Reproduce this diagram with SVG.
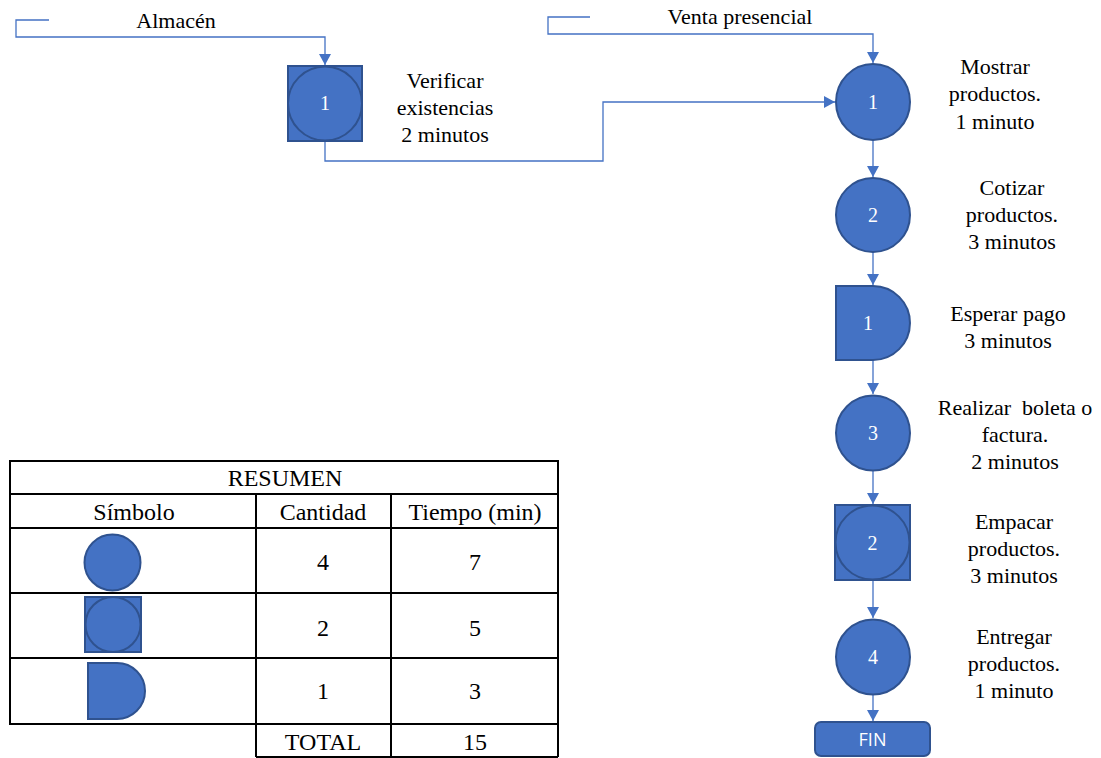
<svg xmlns="http://www.w3.org/2000/svg" width="1101" height="758" viewBox="0 0 1101 758">
  <style>
    .serif { font-family: 'Liberation Serif', 'Times New Roman', serif; }
    .shape { fill: #4472C4; stroke: #2F528F; stroke-width: 2; }
    .conn { fill: none; stroke: #4472C4; stroke-width: 1.3; }
    .num { font-size: 20px; fill: #ffffff; text-anchor: middle; }
    .lbl { font-size: 22px; fill: #000000; text-anchor: middle; }
    .tbl { font-size: 24px; fill: #000000; text-anchor: middle; }
    .grid { fill: none; stroke: #000000; stroke-width: 2; }
    .fin { font-family: 'Open Sans', 'Liberation Sans', sans-serif; font-size: 18px; fill: #ffffff; text-anchor: middle; }
  </style>
  <defs>
    <marker id="arrow" markerUnits="userSpaceOnUse" markerWidth="14" markerHeight="12" refX="11" refY="6" orient="auto">
      <path d="M0,0 L11,6 L0,12 Z" fill="#4472C4"/>
    </marker>
  </defs>

  <rect width="1101" height="758" fill="#ffffff"/>

  <!-- connectors -->
  <g id="connectors">
    <path class="conn" d="M49,20 H16 V37 H325 V65" marker-end="url(#arrow)"/>
    <path class="conn" d="M325,141 V161 H603 V102 H835" marker-end="url(#arrow)"/>
    <path class="conn" d="M590,17 H548 V34 H873 V63" marker-end="url(#arrow)"/>
    <path class="conn" d="M873,140 V177" marker-end="url(#arrow)"/>
    <path class="conn" d="M873,252 V285" marker-end="url(#arrow)"/>
    <path class="conn" d="M873,360 V394" marker-end="url(#arrow)"/>
    <path class="conn" d="M873,470 V504" marker-end="url(#arrow)"/>
    <path class="conn" d="M873,580 V618" marker-end="url(#arrow)"/>
    <path class="conn" d="M873,694 V721" marker-end="url(#arrow)"/>
  </g>

  <g class="serif">
    <!-- entry labels -->
    <text class="lbl" x="176" y="28">Almacén</text>
    <text class="lbl" x="740" y="24">Venta presencial</text>

    <!-- combined activity: Verificar existencias -->
    <g id="node-verificar">
      <rect class="shape" x="288" y="66" width="74" height="75"/>
      <circle class="shape" cx="325" cy="103.5" r="37"/>
      <text class="num" x="325" y="110">1</text>
      <text class="lbl" x="445" y="88">Verificar</text>
      <text class="lbl" x="445" y="115">existencias</text>
      <text class="lbl" x="445" y="142">2 minutos</text>
    </g>

    <!-- operation 1 -->
    <g id="node-mostrar">
      <ellipse class="shape" cx="873" cy="102" rx="37" ry="38"/>
      <text class="num" x="873" y="109">1</text>
      <text class="lbl" x="995" y="74">Mostrar</text>
      <text class="lbl" x="995" y="101">productos.</text>
      <text class="lbl" x="995" y="129">1 minuto</text>
    </g>

    <!-- operation 2 -->
    <g id="node-cotizar">
      <ellipse class="shape" cx="873" cy="215" rx="37" ry="37"/>
      <text class="num" x="873" y="222">2</text>
      <text class="lbl" x="1012" y="195">Cotizar</text>
      <text class="lbl" x="1012" y="222">productos.</text>
      <text class="lbl" x="1012" y="249">3 minutos</text>
    </g>

    <!-- delay 1 -->
    <g id="node-esperar">
      <path class="shape" d="M836,286 H873 A37,37 0 0 1 873,360 H836 Z"/>
      <text class="num" x="868" y="330">1</text>
      <text class="lbl" x="1008" y="321">Esperar pago</text>
      <text class="lbl" x="1008" y="348">3 minutos</text>
    </g>

    <!-- operation 3 -->
    <g id="node-boleta">
      <ellipse class="shape" cx="873" cy="433" rx="37" ry="37.5"/>
      <text class="num" x="873" y="440">3</text>
      <text class="lbl" x="1015" y="415" xml:space="preserve">Realizar  boleta o</text>
      <text class="lbl" x="1015" y="442">factura.</text>
      <text class="lbl" x="1015" y="469">2 minutos</text>
    </g>

    <!-- combined activity 2 -->
    <g id="node-empacar">
      <rect class="shape" x="835" y="505" width="75" height="75"/>
      <circle class="shape" cx="872.5" cy="542.5" r="37"/>
      <text class="num" x="872.5" y="550">2</text>
      <text class="lbl" x="1014" y="529">Empacar</text>
      <text class="lbl" x="1014" y="556">productos.</text>
      <text class="lbl" x="1014" y="583">3 minutos</text>
    </g>

    <!-- operation 4 -->
    <g id="node-entregar">
      <ellipse class="shape" cx="873" cy="657" rx="37" ry="37.5"/>
      <text class="num" x="873" y="664">4</text>
      <text class="lbl" x="1014" y="644">Entregar</text>
      <text class="lbl" x="1014" y="671">productos.</text>
      <text class="lbl" x="1014" y="698">1 minuto</text>
    </g>

    <!-- summary table -->
    <g id="resumen">
      <rect class="grid" x="10" y="461" width="548" height="263"/>
      <line class="grid" x1="10" y1="494" x2="558" y2="494"/>
      <line class="grid" x1="10" y1="528" x2="558" y2="528"/>
      <line class="grid" x1="10" y1="593" x2="558" y2="593"/>
      <line class="grid" x1="10" y1="658" x2="558" y2="658"/>
      <line class="grid" x1="256" y1="494" x2="256" y2="757"/>
      <line class="grid" x1="391" y1="494" x2="391" y2="757"/>
      <line class="grid" x1="558" y1="724" x2="558" y2="757"/>
      <line class="grid" x1="256" y1="757" x2="558" y2="757"/>

      <text class="tbl" x="285" y="486">RESUMEN</text>
      <text class="tbl" x="134" y="520">Símbolo</text>
      <text class="tbl" x="323" y="520">Cantidad</text>
      <text class="tbl" x="475" y="520">Tiempo (min)</text>

      <circle class="shape" cx="112.5" cy="562.5" r="28"/>
      <text class="tbl" x="323" y="570">4</text>
      <text class="tbl" x="475" y="570">7</text>

      <rect class="shape" x="85" y="597" width="56" height="55"/>
      <circle class="shape" cx="113" cy="624.5" r="27.5"/>
      <text class="tbl" x="323" y="636">2</text>
      <text class="tbl" x="475" y="636">5</text>

      <path class="shape" d="M88,663 H117 A28,28 0 0 1 117,719 H88 Z"/>
      <text class="tbl" x="323" y="699">1</text>
      <text class="tbl" x="475" y="699">3</text>

      <text class="tbl" x="323" y="750">TOTAL</text>
      <text class="tbl" x="475" y="750">15</text>
    </g>
  </g>

  <!-- end terminal -->
  <g id="node-fin">
    <rect class="shape" x="815" y="722" width="115" height="34" rx="6"/>
    <text class="fin" x="872.5" y="746">FIN</text>
  </g>
</svg>
